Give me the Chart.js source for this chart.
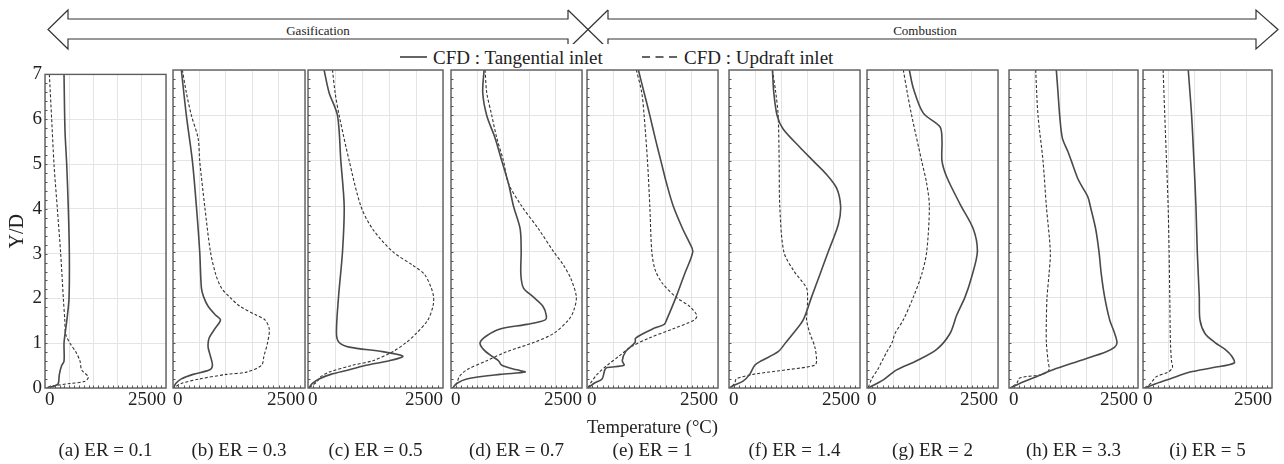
<!DOCTYPE html>
<html lang="en">
  <head>
    <meta charset="UTF-8" />
    <title>Axial temperature profiles for different ER</title>
    <script src="https://cdn.jsdelivr.net/npm/chart.js@4.4.0/dist/chart.umd.min.js"></script>
    <style>
      body { margin: 0; background: #fff; }
      #wrap { position: relative; width: 1284px; height: 464px; overflow: hidden; }
      #wrap canvas { position: absolute; top: 60px; }
      #head { position: absolute; left: 0; top: 0; }
    </style>
  </head>
  <body>
    <div id="wrap">
      <svg id="head" width="1284" height="69" font-family="'Liberation Serif', 'Times New Roman', serif">
        <g fill="none" stroke="#333" stroke-width="1.2">
          <polyline points="568,10 568,19 68,19 68,10 48,29.5 68,49 68,39 568,39 568,49" />
          <line x1="568" y1="10" x2="608" y2="49" />
          <line x1="568" y1="49" x2="608" y2="10" />
          <polyline points="608,10 608,19 1256,19 1256,10 1278,29.5 1256,49 1256,39 608,39 608,49" />
        </g>
        <text x="318" y="30" font-size="13" text-anchor="middle" dominant-baseline="central" fill="#222">Gasification</text>
        <text x="925" y="30" font-size="13" text-anchor="middle" dominant-baseline="central" fill="#222">Combustion</text>
        <rect x="395" y="44" width="222" height="25" fill="#fff" />
        <rect x="636" y="44" width="205" height="25" fill="#fff" />
        <line x1="400" y1="57" x2="427" y2="57" stroke="#333" stroke-width="1.5" />
        <text id="legTan" x="433" y="57" font-size="19" dominant-baseline="central" fill="#222"></text>
        <line x1="642" y1="57" x2="681" y2="57" stroke="#333" stroke-width="1.5" stroke-dasharray="8,5.5" />
        <text id="legUpd" x="684" y="57" font-size="19" dominant-baseline="central" fill="#222"></text>
      </svg>
    </div>

    <script>
      // series names and panel captions
      const seriesNames = ['CFD : Tangential inlet', 'CFD : Updraft inlet'];
      const panelLabels = ['(a) ER = 0.1', '(b) ER = 0.3', '(c) ER = 0.5', '(d) ER = 0.7', '(e) ER = 1',
                           '(f) ER = 1.4', '(g) ER = 2', '(h) ER = 3.3', '(i) ER = 5'];
      const xTitle = 'Temperature (\u00B0C)';
      const yTitle = 'Y/D';
      const xTicksShown = [0, 2500];

      // each point: [temperature in degC, Y/D], read top to bottom
      const tanA = [[393,7],[413,5.75],[448,5],[482,4],[503,3],[496,2],[450,1.5],[413,1.2],[393,1],[393,0.6],[344,0.5],[296,0.3],[275,0.1],[207,0.05],[34,0]];
      const updA = [[90,7],[138,6],[186,5],[255,4],[324,3],[379,2],[410,1.5],[427,1.2],[517,1],[640,0.8],[723,0.6],[758,0.4],[895,0.25],[826,0.15],[517,0.1],[172,0.05],[20,0]];

      const tanB = [[158,7],[253,6],[367,5],[443,4],[506,3],[538,2.2],[582,2],[665,1.8],[810,1.6],[899,1.5],[791,1.3],[684,1.1],[665,0.9],[709,0.7],[747,0.5],[696,0.4],[380,0.3],[158,0.2],[51,0.1],[13,0]];
      const updB = [[177,7],[253,6.5],[348,6],[475,5.5],[506,5],[601,4],[709,3],[810,2.5],[918,2.2],[1076,2],[1266,1.8],[1582,1.6],[1741,1.5],[1823,1.3],[1791,1],[1722,0.7],[1677,0.5],[1392,0.35],[1013,0.3],[506,0.2],[158,0.1],[13,0]];

      const tanC = [[298,7],[391,6.5],[546,6],[608,5],[670,4],[639,3],[565,2],[527,1.2],[577,1],[763,0.9],[1383,0.8],[1756,0.7],[1507,0.6],[1073,0.5],[763,0.4],[422,0.3],[205,0.2],[81,0.1],[19,0]];
      const updC = [[453,7],[502,6.5],[577,6],[763,5],[980,4],[1197,3.5],[1569,3],[1942,2.7],[2159,2.5],[2283,2.2],[2326,2],[2314,1.8],[2221,1.5],[2004,1.2],[1818,1],[1569,0.8],[1197,0.6],[825,0.5],[391,0.35],[236,0.25],[174,0.15],[19,0]];

      const tanD = [[631,7],[606,6.5],[682,6],[842,5.5],[969,5],[1097,4.5],[1193,4],[1320,3.5],[1339,3],[1333,2.5],[1384,2.2],[1575,2],[1754,1.8],[1818,1.6],[1799,1.5],[1448,1.4],[937,1.3],[682,1.15],[555,1],[619,0.85],[778,0.7],[906,0.6],[969,0.5],[1256,0.4],[1416,0.35],[937,0.3],[300,0.2],[108,0.1],[32,0]];
      const updD = [[651,7],[682,6.5],[778,6],[874,5.5],[1001,5],[1097,4.5],[1352,4],[1671,3.5],[1958,3],[2149,2.7],[2290,2.4],[2392,2],[2340,1.7],[2245,1.5],[1958,1.2],[1575,1],[1065,0.8],[682,0.6],[300,0.4],[159,0.25],[108,0.1],[32,0]];

      const tanE = [[981,7],[1090,6.5],[1199,6],[1301,5.5],[1410,5],[1519,4.5],[1647,4],[1827,3.5],[1955,3.2],[2019,3],[1859,2.5],[1699,2],[1519,1.5],[1474,1.4],[1250,1.3],[929,1.1],[917,1],[737,0.8],[673,0.6],[705,0.5],[385,0.45],[340,0.4],[288,0.2],[128,0.1],[19,0]];
      const updE = [[942,7],[1045,6.5],[1090,6],[1154,5],[1199,4],[1237,3],[1301,2.6],[1442,2.3],[1699,2],[1955,1.8],[2096,1.6],[2051,1.5],[1635,1.3],[1186,1.1],[833,0.9],[609,0.7],[385,0.5],[192,0.3],[64,0.1],[19,0]];

      const tanF = [[829,7],[855,6.5],[918,6],[1033,5.7],[1352,5.3],[1607,5],[1862,4.7],[2054,4.4],[2130,4],[2086,3.6],[1894,3],[1735,2.5],[1575,2],[1416,1.5],[1224,1.2],[1084,1],[938,0.8],[619,0.6],[491,0.5],[395,0.3],[268,0.15],[77,0.05],[13,0]];
      const updF = [[829,7],[893,6.5],[938,6],[957,5],[969,4],[1046,3],[1224,2.6],[1480,2.2],[1499,2],[1492,1.7],[1480,1.5],[1544,1.2],[1639,0.9],[1671,0.6],[1639,0.5],[1097,0.4],[459,0.3],[140,0.2],[108,0.1],[13,0]];

      const tanG = [[808,7],[884,6.6],[1075,6.05],[1393,5.75],[1431,5.45],[1431,5],[1520,4.65],[1775,4.05],[2029,3.5],[2106,3],[1998,2.45],[1870,2],[1711,1.6],[1584,1.2],[1330,0.85],[948,0.6],[566,0.4],[312,0.18],[20,0]];
      const updG = [[693,7],[769,6.5],[852,6],[1043,5],[1139,4.5],[1190,4],[1139,3],[1043,2.5],[884,2],[693,1.5],[534,1.2],[480,1],[380,0.8],[290,0.6],[200,0.4],[90,0.2],[20,0]];

      const tanH = [[917,7],[950,6.5],[982,6],[1034,5.5],[1143,5.2],[1208,5],[1337,4.6],[1434,4.4],[1531,4.2],[1576,4],[1680,3.5],[1744,3],[1789,2.5],[1854,2],[1951,1.5],[2048,1.2],[2093,1],[2048,0.9],[1886,0.8],[1370,0.6],[853,0.4],[530,0.25],[207,0.1],[26,0]];
      const updH = [[517,7],[562,6],[659,5],[724,4],[801,3],[775,2.5],[737,2],[724,1.5],[724,1],[756,0.6],[775,0.4],[659,0.3],[207,0.22],[150,0.1],[26,0]];

      const tanI = [[877,7],[942,6],[987,5],[1026,4],[1052,3],[1091,2],[1104,1.5],[1201,1.2],[1396,1],[1591,0.85],[1721,0.7],[1766,0.55],[1364,0.45],[909,0.35],[519,0.2],[260,0.1],[32,0]];
      const updI = [[390,7],[422,6],[455,5],[487,4],[506,3],[519,2],[532,1],[552,0.6],[571,0.45],[487,0.35],[260,0.25],[182,0.15],[150,0.1],[32,0]];

      const tangential = [tanA, tanB, tanC, tanD, tanE, tanF, tanG, tanH, tanI];
      const updraft = [updA, updB, updC, updD, updE, updF, updG, updH, updI];

      // plot-area left/right edges in page pixels
      const panelBox = [[45,166],[173,305],[308,443],[451,582],[587,718],[729,860],[867,998],[1009,1138],[1143,1272]];

      const serif = "'Liberation Serif', 'Times New Roman', serif";
      document.getElementById('legTan').textContent = seriesNames[0];
      document.getElementById('legUpd').textContent = seriesNames[1];

      const toXY = pts => pts.map(p => ({ x: p[0], y: p[1] }));

      // box round the plot and the small inner minor ticks
      const framePlugin = {
        id: 'frame',
        afterDraw(chart) {
          const { ctx, chartArea: a, scales: { x, y } } = chart;
          ctx.save();
          ctx.strokeStyle = '#5e5e5e';
          ctx.lineWidth = 1.4;
          ctx.strokeRect(a.left, a.top, a.right - a.left, a.bottom - a.top);
          ctx.strokeStyle = '#555';
          ctx.lineWidth = 1;
          ctx.beginPath();
          for (let t = 100; t < 2500; t += 100) {
            const px = Math.round(x.getPixelForValue(t)) + 0.5;
            ctx.moveTo(px, a.bottom);
            ctx.lineTo(px, a.bottom - 2.5);
          }
          for (let k = 1; k < 35; k++) {
            const py = Math.round(y.getPixelForValue(k * 0.2)) + 0.5;
            ctx.moveTo(a.left, py);
            ctx.lineTo(a.left + 2.5, py);
          }
          ctx.stroke();
          ctx.restore();
        }
      };

      const wrap = document.getElementById('wrap');

      panelBox.forEach((box, i) => {
        const first = i === 0;
        const padL = first ? 45 : 8;
        const padR = 8;
        const cv = document.createElement('canvas');
        cv.width = box[1] - box[0] + padL + padR;
        cv.height = 404;
        cv.style.left = (box[0] - padL) + 'px';
        wrap.appendChild(cv);

        new Chart(cv, {
          type: 'scatter',
          data: {
            datasets: [
              {
                label: seriesNames[0],
                data: toXY(tangential[i]),
                showLine: true,
                borderColor: '#4a4a4a',
                borderWidth: 1.6,
                pointRadius: 0,
                tension: 0.3
              },
              {
                label: seriesNames[1],
                data: toXY(updraft[i]),
                showLine: true,
                borderColor: '#333',
                borderWidth: 1.1,
                borderDash: [3, 2],
                pointRadius: 0,
                tension: 0.3
              }
            ]
          },
          options: {
            responsive: false,
            animation: false,
            devicePixelRatio: 1,
            layout: { padding: { left: first ? 0 : 8, right: padR, top: 10, bottom: 0 } },
            plugins: { legend: { display: false }, tooltip: { enabled: false } },
            scales: {
              x: {
                type: 'linear',
                min: 0,
                max: 2500,
                afterFit: s => { s.height = 76; },
                grid: { color: '#e4e4e4', drawTicks: false },
                border: { display: false },
                ticks: {
                  stepSize: 500,
                  autoSkip: false,
                  maxRotation: 0,
                  minRotation: 0,
                  align: 'inner',
                  padding: 1,
                  color: '#222',
                  font: { family: serif, size: 19 },
                  callback: v => (xTicksShown.includes(v) ? String(v) : '')
                },
                title: {
                  display: true,
                  text: i === 4 ? [xTitle, panelLabels[i]] : panelLabels[i],
                  color: '#222',
                  font: { family: serif, size: 19 },
                  padding: { top: 0, bottom: 2 }
                }
              },
              y: {
                min: 0,
                max: 7,
                afterFit: s => { s.width = first ? 45 : 0; },
                grid: { color: '#e4e4e4', drawTicks: false },
                border: { display: false },
                ticks: {
                  display: first,
                  stepSize: 1,
                  padding: 3,
                  color: '#222',
                  font: { family: serif, size: 19 }
                },
                title: {
                  display: first,
                  text: yTitle,
                  color: '#222',
                  font: { family: serif, size: 20 },
                  padding: { top: 6, bottom: 0 }
                }
              }
            }
          },
          plugins: [framePlugin]
        });
      });
    </script>
  </body>
</html>
